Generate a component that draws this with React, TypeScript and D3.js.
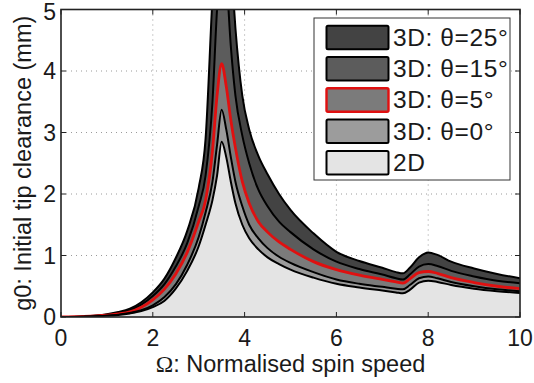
import React from "react";
import * as d3 from "d3";

const xs = [0, 0.5, 1, 1.25, 1.5, 1.75, 2, 2.25, 2.5, 2.75, 3, 3.15, 3.3, 3.4, 3.5, 3.6, 3.7, 3.8, 3.95, 4.1, 4.3, 4.5, 4.75, 5, 5.5, 6, 6.5, 7, 7.3, 7.45, 7.6, 7.8, 8, 8.2, 8.5, 9, 9.5, 10];

const theta25 = [0, 0.01, 0.045, 0.08, 0.135, 0.24, 0.4, 0.62, 0.96, 1.4, 2.1, 2.9, 5.2, 6.5, 7.0, 6.8, 5.8, 4.7, 3.6, 3.05, 2.62, 2.32, 2.0, 1.74, 1.36, 1.06, 0.91, 0.8, 0.73, 0.71, 0.8, 0.97, 1.05, 1.01, 0.9, 0.79, 0.7, 0.63];
const theta15 = [0, 0.009, 0.038, 0.065, 0.11, 0.2, 0.34, 0.53, 0.82, 1.2, 1.8, 2.3, 3.5, 5.0, 5.8, 5.5, 4.4, 3.6, 2.95, 2.5, 2.07, 1.8, 1.55, 1.38, 1.1, 0.9, 0.78, 0.69, 0.63, 0.61, 0.69, 0.82, 0.86, 0.83, 0.75, 0.66, 0.59, 0.55];
const theta5 = [0, 0.008, 0.03, 0.05, 0.085, 0.16, 0.28, 0.45, 0.7, 1.05, 1.55, 1.9, 2.7, 3.6, 4.12, 3.75, 3.2, 2.75, 2.2, 1.85, 1.55, 1.38, 1.22, 1.1, 0.9, 0.77, 0.68, 0.61, 0.57, 0.55, 0.62, 0.72, 0.74, 0.71, 0.64, 0.56, 0.5, 0.46];
const theta0 = [0, 0.006, 0.022, 0.038, 0.065, 0.11, 0.19, 0.32, 0.53, 0.85, 1.3, 1.7, 2.2, 2.8, 3.37, 3.05, 2.6, 2.2, 1.8, 1.5, 1.28, 1.12, 0.98, 0.88, 0.73, 0.61, 0.54, 0.49, 0.46, 0.45, 0.52, 0.63, 0.66, 0.63, 0.57, 0.5, 0.45, 0.42];
const twoD = [0, 0.005, 0.02, 0.034, 0.058, 0.095, 0.16, 0.26, 0.46, 0.75, 1.15, 1.5, 1.9, 2.3, 2.85, 2.6, 2.2, 1.85, 1.5, 1.28, 1.1, 0.97, 0.86, 0.77, 0.64, 0.54, 0.48, 0.43, 0.4, 0.385, 0.44, 0.56, 0.59, 0.57, 0.52, 0.46, 0.42, 0.39];

const seriesNames = ["3D: θ=25°", "3D: θ=15°", "3D: θ=5°", "3D: θ=0°", "2D"];
const seriesValues = [theta25, theta15, theta5, theta0, twoD];
const seriesFill = ["#434343", "#5c5c5c", "#7b7b7b", "#9c9c9c", "#e4e4e4"];
const seriesStroke = ["#000", "#000", "#e01010", "#000", "#000"];

const xTicks = [0, 2, 4, 6, 8, 10];
const yTicks = [0, 1, 2, 3, 4, 5];

const W = 534, H = 383;
const L = 61, R = 520, T = 9.5, B = 317;

export default function App() {
  const x = d3.scaleLinear().domain([0, 10]).range([L, R]);
  const y = d3.scaleLinear().domain([0, 5]).range([B, T]);
  const font = "Liberation Sans, Arial, Helvetica, sans-serif";

  const areaGen = (vals: number[]) =>
    d3.area<number>().x((_, i) => x(xs[i])).y0(y(0)).y1((d) => y(d)).curve(d3.curveMonotoneX)(vals) || "";
  const lineGen = (vals: number[]) =>
    d3.line<number>().x((_, i) => x(xs[i])).y((d) => y(d)).curve(d3.curveMonotoneX)(vals) || "";

  const legX = 314, legY = 18, legW = 196, legH = 162;
  const rowPitch = 31.3;

  return (
    <svg width={W} height={H} style={{ position: "absolute", left: 0, top: 0 }}>
      <defs>
        <clipPath id="plotClip">
          <rect x={L} y={T} width={R - L} height={B - T} />
        </clipPath>
      </defs>
      <rect x={0} y={0} width={W} height={H} fill="#fff" />
      <rect x={L} y={T} width={R - L} height={B - T} fill="#fff" />
      {xTicks.slice(1, -1).map((t) => (
        <line key={"gx" + t} x1={x(t)} x2={x(t)} y1={T} y2={B} stroke="#9a9a9a" strokeWidth={1} strokeDasharray="1,4" />
      ))}
      {yTicks.slice(1, -1).map((t) => (
        <line key={"gy" + t} x1={L} x2={R} y1={y(t)} y2={y(t)} stroke="#9a9a9a" strokeWidth={1} strokeDasharray="1,4" />
      ))}
      <g clipPath="url(#plotClip)">
        {seriesValues.map((vals, i) => (
          <g key={"s" + i}>
            <path d={areaGen(vals)} fill={seriesFill[i]} />
            <path d={lineGen(vals)} fill="none" stroke={seriesStroke[i]} strokeWidth={i === 2 ? 2.8 : 2} strokeLinejoin="round" />
          </g>
        ))}
      </g>
      <rect x={L} y={T} width={R - L} height={B - T} fill="none" stroke="#222" strokeWidth={1.6} />
      {xTicks.map((t) => (
        <g key={"tx" + t}>
          <line x1={x(t)} x2={x(t)} y1={B} y2={B - 5} stroke="#222" strokeWidth={1} />
          <line x1={x(t)} x2={x(t)} y1={T} y2={T + 5} stroke="#222" strokeWidth={1} />
          <text x={x(t)} y={346} fontFamily={font} fontSize={23} textAnchor="middle" fill="#1a1a1a">{t}</text>
        </g>
      ))}
      {yTicks.map((t) => (
        <g key={"ty" + t}>
          <line x1={L} x2={L + 5} y1={y(t)} y2={y(t)} stroke="#222" strokeWidth={1} />
          <line x1={R} x2={R - 5} y1={y(t)} y2={y(t)} stroke="#222" strokeWidth={1} />
          <text x={56} y={Math.max(y(t) + 8, 20)} fontFamily={font} fontSize={23} textAnchor="end" fill="#1a1a1a">{t}</text>
        </g>
      ))}
      <text x={(L + R) / 2} y={372} fontFamily={font} fontSize={23.5} textAnchor="middle" fill="#1a1a1a">
        <tspan fontFamily="Liberation Serif, Times New Roman, serif">Ω</tspan>: Normalised spin speed
      </text>
      <text transform={`translate(31,${(T + B) / 2}) rotate(-90)`} fontFamily={font} fontSize={23.5} textAnchor="middle" fill="#1a1a1a">
        g0: Initial tip clearance (mm)
      </text>
      <rect x={legX} y={legY} width={legW} height={legH} fill="#fff" stroke="#333" strokeWidth={1} />
      {seriesNames.map((name, i) => {
        const ry = 25.7 + i * rowPitch;
        return (
          <g key={"lg" + i}>
            <rect x={326.5} y={ry} width={62} height={23.5} rx={1.5} fill={seriesFill[i]} stroke={seriesStroke[i]} strokeWidth={i === 2 ? 2.4 : 2} />
            <text x={393} y={ry + 20} fontFamily={font} fontSize={24.5} letterSpacing={0.6} fill="#1a1a1a">{name}</text>
          </g>
        );
      })}
    </svg>
  );
}
